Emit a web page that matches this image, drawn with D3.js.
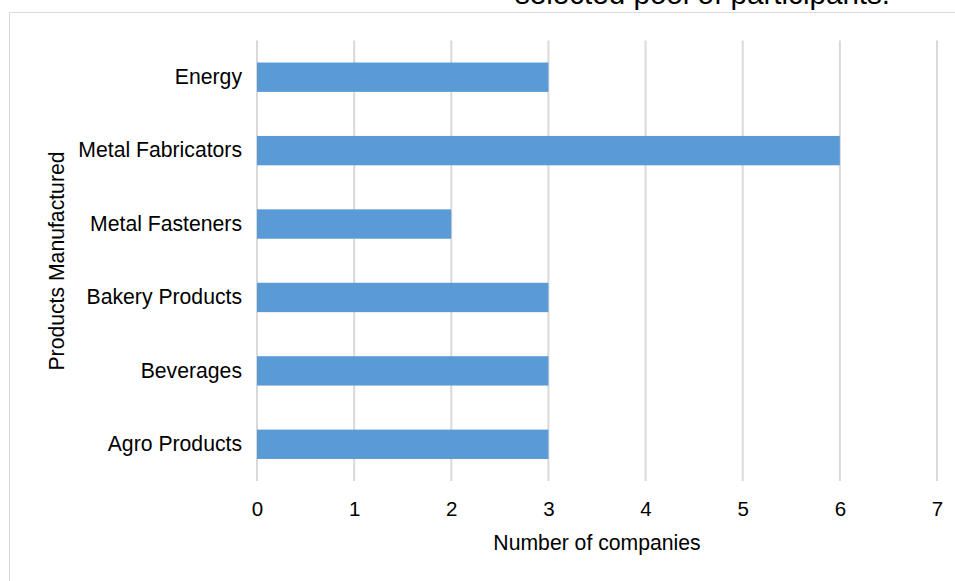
<!DOCTYPE html>
<html>
<head>
<meta charset="utf-8">
<script src="https://cdn.jsdelivr.net/npm/d3@7"></script>
<style>
  body { margin: 0; background: #fff; }
  svg { display: block; font-family: "Liberation Sans", Arial, sans-serif; }
</style>
</head>
<body>
<div id="chart"></div>
<script>
// chart data
const categories = ["Energy", "Metal Fabricators", "Metal Fasteners", "Bakery Products", "Beverages", "Agro Products"];
const companies = [3, 6, 2, 3, 3, 3];
const xTicks = [0, 1, 2, 3, 4, 5, 6, 7];

const width = 955;
const height = 581;
const margin = { top: 40.5, right: 18, bottom: 100, left: 257 };

const svg = d3.select("#chart")
    .append("svg")
    .attr("width", width)
    .attr("height", height);

// frame of the chart area (cut off at right and bottom)
svg.append("rect")
    .attr("x", 9.5)
    .attr("y", 12.5)
    .attr("width", 960)
    .attr("height", 600)
    .attr("fill", "none")
    .attr("stroke", "#d9d9d9")
    .attr("stroke-width", 1);

// caption line from the document, mostly cut off above the picture
svg.append("text")
    .attr("x", 515)
    .attr("y", 4)
    .attr("font-size", 29.6)
    .attr("fill", "#000")
    .text("selected pool of participants.");

const x = d3.scaleLinear()
    .domain([0, 7])
    .range([margin.left, 937]);

const y = d3.scaleBand()
    .domain(categories)
    .range([margin.top, 481])
    .paddingInner(0.6)
    .paddingOuter(0.3);

// vertical gridlines
svg.append("g")
    .selectAll("line")
    .data(xTicks)
    .enter()
    .append("line")
    .attr("x1", d => x(d))
    .attr("x2", d => x(d))
    .attr("y1", margin.top)
    .attr("y2", 481)
    .attr("stroke", "#d9d9d9")
    .attr("stroke-width", 2);

// bars
svg.append("g")
    .selectAll("rect")
    .data(categories)
    .enter()
    .append("rect")
    .attr("x", x(0))
    .attr("y", d => y(d))
    .attr("width", (d, i) => x(companies[i]) - x(0))
    .attr("height", y.bandwidth())
    .attr("fill", "#5b9bd5");

// x axis labels
const xAxis = svg.append("g")
    .attr("transform", `translate(0,${481})`)
    .call(d3.axisBottom(x).tickValues(xTicks).tickFormat(d3.format("d")).tickSize(0).tickPadding(20));
xAxis.select(".domain").remove();
xAxis.selectAll("text")
    .attr("font-size", 20.5)
    .attr("font-family", "Liberation Sans, Arial, sans-serif")
    .attr("fill", "#000");

// y axis labels
const yAxis = svg.append("g")
    .attr("transform", `translate(${margin.left},0)`)
    .call(d3.axisLeft(y).tickSize(0).tickPadding(15));
yAxis.select(".domain").remove();
yAxis.selectAll("text")
    .attr("font-size", 21.2)
    .attr("font-family", "Liberation Sans, Arial, sans-serif")
    .attr("fill", "#000");

// axis titles
svg.append("text")
    .attr("x", 597)
    .attr("y", 550)
    .attr("text-anchor", "middle")
    .attr("font-size", 21.2)
    .attr("fill", "#000")
    .text("Number of companies");

svg.append("text")
    .attr("transform", "translate(64,261) rotate(-90)")
    .attr("text-anchor", "middle")
    .attr("font-size", 21.2)
    .attr("fill", "#000")
    .text("Products Manufactured");
</script>
</body>
</html>
